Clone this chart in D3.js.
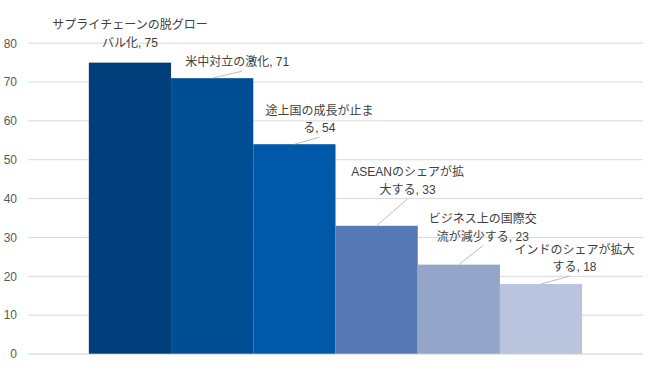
<!DOCTYPE html>
<html lang="ja">
    <head>
        <meta charset="utf-8">
        <title>Bar chart</title>
        <script type="text/javascript" src="https://d3js.org/d3.v7.min.js"></script>
        <style type="text/css">
            body { margin: 0; background: #fff; }
            text { font-family: "Liberation Sans", "Noto Sans CJK JP", sans-serif; }
        </style>
    </head>
    <body>
        <script type="text/javascript">

            // data
            const categories = [
                "サプライチェーンの脱グローバル化",
                "米中対立の激化",
                "途上国の成長が止まる",
                "ASEANのシェアが拡大する",
                "ビジネス上の国際交流が減少する",
                "インドのシェアが拡大する"
            ];
            const values = [75, 71, 54, 33, 23, 18];
            const yTicks = [0, 10, 20, 30, 40, 50, 60, 70, 80];

            // look
            const colors = ["#003f7b", "#004f95", "#0059a8", "#5779b3", "#94a5ca", "#bac4de"];
            // where the label text wraps (character index), -1 = single line
            const breakAt = [13, -1, 9, 11, 9, 10];
            // label position relative to top centre of bar (centre of last line)
            const labelDx = [0, 25, 25, 31, 24, 33.5];
            const labelDy = [-20, -16, -16, -36, -28, -17];
            const leaderDx = [null, 30, 25, 31, 24, 28.5];

            const width = 650;
            const height = 377;
            const plotLeft = 28, plotRight = 643;

            const svg = d3.select("body")
                          .append("svg")
                          .attr("width", width)
                          .attr("height", height);

            const xScale = d3.scaleBand()
                             .domain(categories)
                             .range([plotLeft, plotRight])
                             .paddingInner(0)
                             .paddingOuter(0.74);

            const yScale = d3.scaleLinear()
                             .domain([0, 80])
                             .range([354, 43.2]);

            // gridlines
            svg.append("g")
               .selectAll("line")
               .data(yTicks)
               .enter()
               .append("line")
               .attr("x1", plotLeft)
               .attr("x2", plotRight)
               .attr("y1", d => yScale(d))
               .attr("y2", d => yScale(d))
               .attr("stroke", "#d9d9d9")
               .attr("stroke-width", 1);

            // left axis labels
            const leftAxis = d3.axisLeft(yScale)
                               .tickValues(yTicks)
                               .tickSize(0)
                               .tickPadding(0);
            const axisG = svg.append("g")
                             .attr("transform", "translate(17,0)")
                             .call(leftAxis);
            axisG.select(".domain").remove();
            axisG.selectAll("text")
                 .attr("fill", "#595959")
                 .style("font-size", "12px")
                 .style("font-family", "'Liberation Sans', sans-serif");

            // bars
            svg.selectAll("rect.bar")
               .data(values)
               .enter()
               .append("rect")
               .attr("class", "bar")
               .attr("x", (d, i) => xScale(categories[i]))
               .attr("y", d => yScale(d))
               .attr("width", xScale.bandwidth())
               .attr("height", d => yScale(0) - yScale(d))
               .attr("fill", (d, i) => colors[i]);

            // baseline over bars
            svg.append("line")
               .attr("x1", plotLeft)
               .attr("x2", plotRight)
               .attr("y1", yScale(0))
               .attr("y2", yScale(0))
               .attr("stroke", "#d9d9d9")
               .attr("stroke-opacity", 0.6);

            // data labels with leader lines
            values.forEach(function(v, i) {
                const cx = xScale(categories[i]) + xScale.bandwidth() / 2;
                const top = yScale(v);
                const full = categories[i] + ", " + v;
                const lines = breakAt[i] < 0 ? [full] : [full.slice(0, breakAt[i]), full.slice(breakAt[i])];
                const lx = cx + labelDx[i];
                const lastY = top + labelDy[i];

                const t = svg.append("text")
                             .attr("text-anchor", "middle")
                             .attr("fill", "#404040")
                             .style("font-size", "12px");
                lines.forEach(function(s, j) {
                    t.append("tspan")
                     .attr("x", lx)
                     .attr("y", lastY - (lines.length - 1 - j) * 17.5)
                     .attr("dy", "0.35em")
                     .text(s);
                });

                if (leaderDx[i] !== null) {
                    svg.append("line")
                       .attr("x1", cx)
                       .attr("y1", top)
                       .attr("x2", cx + leaderDx[i])
                       .attr("y2", lastY + 9)
                       .attr("stroke", "#a6a6a6")
                       .attr("stroke-width", 0.75);
                }
            });

        </script>
    </body>
</html>
